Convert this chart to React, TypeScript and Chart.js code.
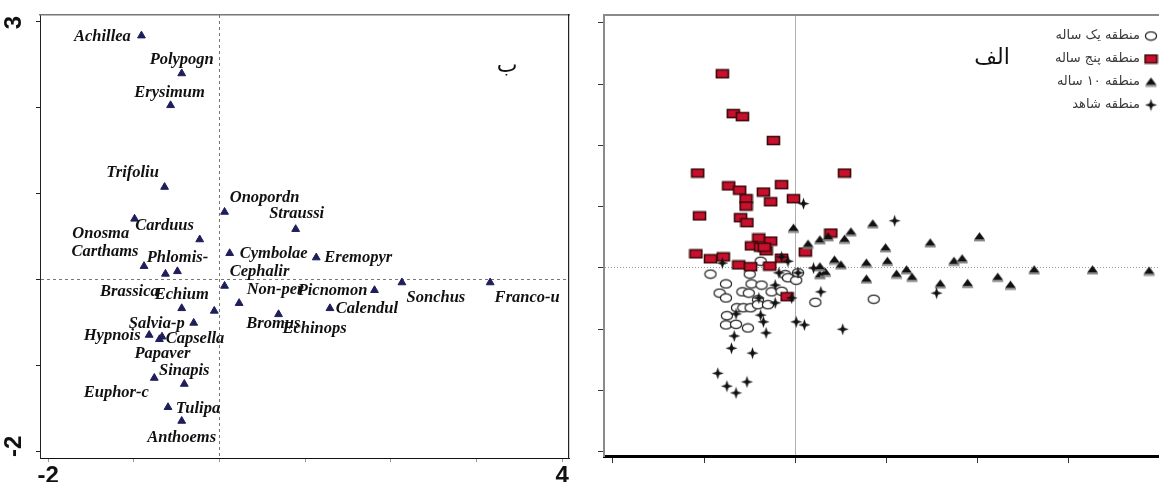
import React, { useEffect, useRef } from 'react';
import { Chart, registerables } from 'chart.js';

Chart.register(...registerables);

// ---------- Left panel (ب): species ordination ----------
const SPECIES = ['Achillea', 'Polypogn', 'Erysimum', 'Trifoliu', 'Onopordn', 'Straussi', 'Carduus', 'Onosma', 'Carthams', 'Phlomis-', 'Brassica', 'Cymbolae', 'Eremopyr', 'Cephalir', 'Non-per', 'Picnomon', 'Calendul', 'Sonchus', 'Franco-u', 'Echium', 'Bromus', 'Echinops', 'Salvia-p', 'Hypnois', 'Capsella', 'Papaver', 'Sinapis', 'Euphor-c', 'Tulipa', 'Anthoems'];
const SPECIES_X = [-0.91, -0.44, -0.57, -0.64, 0.06, 0.89, -0.99, -0.23, -0.88, -0.63, -0.49, 0.12, 1.13, 0.06, 0.23, 1.81, 1.29, 2.13, 3.16, -0.44, -0.06, 0.69, -0.30, -0.82, -0.67, -0.70, -0.41, -0.76, -0.60, -0.44];
const SPECIES_Y = [2.84, 2.40, 2.03, 1.08, 0.79, 0.59, 0.71, 0.47, 0.16, 0.07, 0.10, 0.31, 0.26, -0.07, -0.27, -0.12, -0.33, -0.03, -0.03, -0.33, -0.36, -0.40, -0.50, -0.64, -0.66, -0.69, -1.21, -1.14, -1.48, -1.64];
const LEFT_X_TICKS = [-2, -1, 0, 1, 2, 3, 4];
const LEFT_Y_TICKS = [-2, -1, 0, 1, 2, 3];
const LEFT_X_LABELED = [-2, 4];
const LEFT_Y_LABELED = [3, -2];
const LEFT_PANEL_LETTER = 'ب';

// label placement (pixel offsets from each marker) – styling only
const LABEL_OFFSETS: [number, number][] = [
  [-39, 1], [0, -14], [-1, -13], [-32, -14], [40, -14], [1, -15], [30, 7], [-99, -6], [-39, -14], [12, -16],
  [-48, 20], [44, 0], [42, 0], [35, -14], [36, -13], [-42, 0], [37, 0], [34, 15], [37, 15], [0, -14],
  [59, 13], [36, 14], [-37, 1], [-37, 1], [33, 2], [3, 14], [0, -13], [-38, 15], [30, 1], [0, 17],
];

// ---------- Right panel (الف): site scores ----------
const ONE_YEAR_X = [-0.93, -0.50, -0.38, -0.76, -0.48, -0.37, -0.83, -0.76, -0.58, -0.51, -0.26, -0.15, -0.41, -0.64, -0.57, -0.49, -0.41, -0.30, -0.75, -0.76, -0.65, -0.52, -0.11, -0.08, 0.01, 0.03, 0.22, 0.86];
const ONE_YEAR_Y = [-0.10, -0.10, 0.11, -0.26, -0.26, -0.28, -0.41, -0.49, -0.39, -0.41, -0.39, -0.38, -0.52, -0.65, -0.65, -0.65, -0.60, -0.60, -0.78, -0.93, -0.92, -0.98, -0.11, -0.16, -0.20, -0.08, -0.56, -0.51];
const FIVE_YEAR_X = [-0.80, -0.68, -0.58, -0.24, -1.07, 0.54, -0.73, -0.61, -0.15, -0.35, -0.54, -0.02, -0.27, -0.54, -1.05, -0.60, -0.53, 0.39, -0.40, -0.27, -0.48, -0.38, -0.32, 0.11, -1.09, -0.93, -0.79, -0.15, -0.62, -0.49, -0.28, -0.09, -0.34];
const FIVE_YEAR_Y = [3.17, 2.52, 2.47, 2.08, 1.55, 1.55, 1.34, 1.27, 1.36, 1.24, 1.13, 1.13, 1.08, 1.01, 0.85, 0.82, 0.74, 0.57, 0.49, 0.44, 0.36, 0.34, 0.28, 0.26, 0.23, 0.15, 0.18, 0.16, 0.05, 0.02, 0.03, -0.47, 0.34];
const TEN_YEAR_X = [-0.02, 0.14, 0.27, 0.36, 0.54, 0.61, 0.85, 0.43, 0.50, 0.78, 0.78, 0.99, 1.01, 0.27, 0.33, 0.27, 1.11, 1.22, 1.28, 1.48, 1.59, 1.74, 1.83, 2.02, 1.89, 2.22, 2.36, 2.62, 3.26, 3.88];
const TEN_YEAR_Y = [0.65, 0.39, 0.46, 0.51, 0.47, 0.59, 0.72, 0.13, 0.05, 0.08, -0.18, 0.33, 0.11, -0.11, -0.07, 0.02, -0.10, -0.03, -0.15, 0.41, -0.26, 0.11, 0.15, 0.51, -0.25, -0.15, -0.28, -0.03, -0.03, -0.05];
const CONTROL_X = [0.09, -0.80, -0.15, -0.08, -0.18, 0.03, 0.20, 0.28, -0.22, -0.40, -0.22, -0.04, -0.65, -0.38, -0.35, -0.67, -0.32, -0.70, -0.47, -0.85, -0.75, -0.65, -0.53, 0.01, 0.10, 0.52, 1.09, 1.55];
const CONTROL_Y = [1.05, 0.08, 0.18, 0.11, -0.08, -0.08, 0.00, -0.39, -0.28, -0.49, -0.57, -0.49, -0.75, -0.77, -0.88, -1.11, -1.06, -1.31, -1.39, -1.72, -1.93, -2.04, -1.86, -0.88, -0.93, -1.00, 0.77, -0.41];
const RIGHT_X_TICKS = [-2, -1, 0, 1, 2, 3];
const RIGHT_Y_TICKS = [-3, -2, -1, 0, 1, 2, 3, 4];
const LEGEND_LABELS = ['منطقه یک ساله', 'منطقه پنج ساله', 'منطقه ۱۰ ساله', 'منطقه شاهد'];
const RIGHT_PANEL_LETTER = 'الف';

const pts = (xs: number[], ys: number[]) => xs.map((x, i) => ({ x, y: ys[i] }));
const fixedTicks = (vals: number[]) => (axis: any) => { axis.ticks = vals.map((v) => ({ value: v })); };
const zeroOnly = (color: string) => (c: any) => (c.tick && c.tick.value === 0 ? color : 'rgba(0,0,0,0)');

function makeCanvas(w: number, h: number, draw: (g: CanvasRenderingContext2D) => void) {
  const c = document.createElement('canvas');
  c.width = w; c.height = h;
  draw(c.getContext('2d') as CanvasRenderingContext2D);
  return c;
}

function buildMarkers() {
  const circle = makeCanvas(14, 11, (g) => {
    g.beginPath(); g.ellipse(7, 5.5, 5.6, 4.2, 0, 0, Math.PI * 2);
    g.fillStyle = '#fff'; g.fill(); g.lineWidth = 1.2; g.strokeStyle = '#222'; g.stroke();
  });
  const square = makeCanvas(15, 11, (g) => {
    g.fillStyle = '#c8102e'; g.strokeStyle = '#3a0808'; g.lineWidth = 1.6;
    g.beginPath(); g.rect(1.5, 1.5, 12, 8); g.fill(); g.stroke();
  });
  const triangle = makeCanvas(13, 11, (g) => {
    g.fillStyle = '#111'; g.beginPath(); g.moveTo(6.5, 1); g.lineTo(12, 8.5); g.lineTo(1, 8.5); g.closePath(); g.fill();
    g.strokeStyle = '#8a8a8a'; g.lineWidth = 1.5; g.beginPath(); g.moveTo(1, 9.5); g.lineTo(12, 9.5); g.stroke();
  });
  const plus = makeCanvas(13, 13, (g) => {
    const c = 6.5, r = 6, q = 1.5;
    g.fillStyle = '#111'; g.beginPath();
    g.moveTo(c, c - r); g.lineTo(c + q, c - q); g.lineTo(c + r, c); g.lineTo(c + q, c + q);
    g.lineTo(c, c + r); g.lineTo(c - q, c + q); g.lineTo(c - r, c); g.lineTo(c - q, c - q); g.closePath(); g.fill();
  });
  return { circle, square, triangle, plus };
}

const leftAnnotations = {
  id: 'leftAnnotations',
  afterDatasetsDraw(chart: any) {
    const { ctx, chartArea } = chart;
    const meta = chart.getDatasetMeta(0);
    ctx.save();
    ctx.fillStyle = '#111';
    ctx.textAlign = 'center';
    ctx.textBaseline = 'middle';
    ctx.font = 'italic bold 16.5px "Liberation Serif", serif';
    meta.data.forEach((p: any, i: number) => {
      const [dx, dy] = LABEL_OFFSETS[i];
      ctx.fillText(SPECIES[i], p.x + dx, p.y + dy);
    });
    ctx.font = 'bold 24px "Liberation Sans", sans-serif';
    const topVal = Math.max(...LEFT_Y_LABELED);
    LEFT_Y_LABELED.forEach((v) => {
      const isTop = v === topVal;
      const py = isTop ? chartArea.top + 1 : chartArea.bottom - 1;
      ctx.save();
      ctx.translate(14, py);
      ctx.rotate(-Math.PI / 2);
      ctx.textAlign = isTop ? 'right' : 'left';
      ctx.fillText(String(v), 0, 0);
      ctx.restore();
    });
    ctx.font = '22px "DejaVu Sans", sans-serif';
    ctx.fillText(LEFT_PANEL_LETTER, 507, 66);
    ctx.restore();
  },
};

function rightAnnotations(markers: any) {
  return {
    id: 'rightAnnotations',
    afterDraw(chart: any) {
      const { ctx, chartArea } = chart;
      const symbols = [markers.circle, markers.square, markers.triangle, markers.plus];
      ctx.save();
      ctx.direction = 'rtl';
      ctx.textAlign = 'right';
      ctx.textBaseline = 'middle';
      ctx.fillStyle = '#3a3a3a';
      ctx.font = '13px "DejaVu Sans", sans-serif';
      const sx = chartArea.right - 7;
      LEGEND_LABELS.forEach((lab, i) => {
        const y = 36 + i * 23;
        const img = symbols[i];
        ctx.drawImage(img, sx - img.width / 2, y - img.height / 2);
        ctx.fillText(lab, sx - 11, y);
      });
      ctx.fillStyle = '#111';
      ctx.textAlign = 'center';
      ctx.font = '22px "DejaVu Sans", sans-serif';
      ctx.fillText(RIGHT_PANEL_LETTER, 412, 58);
      ctx.restore();
    },
  };
}

export default function App() {
  const leftRef = useRef<HTMLCanvasElement>(null);
  const rightRef = useRef<HTMLCanvasElement>(null);

  useEffect(() => {
    const markers = buildMarkers();
    const hidden = { display: false };

    const left = new Chart(leftRef.current as HTMLCanvasElement, {
      type: 'scatter',
      data: {
        datasets: [{
          data: pts(SPECIES_X, SPECIES_Y),
          pointStyle: 'triangle',
          pointRadius: 4.5,
          backgroundColor: '#1e1e5a',
          borderColor: '#1e1e5a',
          borderWidth: 1,
        }],
      },
      options: {
        animation: false,
        responsive: true,
        maintainAspectRatio: false,
        events: [],
        layout: { padding: { left: 0, top: 15, right: 11, bottom: 0 } },
        plugins: { legend: hidden, tooltip: { enabled: false } },
        scales: {
          x: {
            type: 'linear', position: 'bottom', min: -2.094, max: 4.08,
            afterBuildTicks: fixedTicks(LEFT_X_TICKS),
            afterFit: (s: any) => { s.height = 24; },
            grid: { color: zeroOnly('#777'), tickColor: '#999', tickLength: 4, drawTicks: true },
            border: { display: true, color: '#111', width: 1, dash: [3, 3] },
            ticks: {
              autoSkip: false, maxRotation: 0, padding: 0, color: '#111',
              font: { family: '"Liberation Sans", sans-serif', size: 24, weight: 'bold' },
              callback: (v: any) => (LEFT_X_LABELED.includes(Number(v)) ? String(v) : ''),
            },
          },
          y: {
            type: 'linear', position: 'left', min: -2.07, max: 3.08,
            afterBuildTicks: fixedTicks(LEFT_Y_TICKS),
            afterFit: (s: any) => { s.width = 40; },
            grid: { color: zeroOnly('#777'), tickColor: '#222', tickLength: 4, drawTicks: true },
            border: { display: true, color: '#222', width: 1, dash: [3, 3] },
            ticks: { display: false },
          },
          xTop: {
            type: 'linear', position: 'top', min: -2.094, max: 4.08,
            afterFit: (s: any) => { s.height = 0; },
            grid: hidden, ticks: { display: false },
            border: { display: true, color: '#777', width: 1.5 },
          },
          yRight: {
            type: 'linear', position: 'right', min: -2.07, max: 3.08,
            afterFit: (s: any) => { s.width = 0; },
            grid: hidden, ticks: { display: false },
            border: { display: true, color: '#222', width: 1.2 },
          },
        },
      } as any,
      plugins: [leftAnnotations],
    });

    const right = new Chart(rightRef.current as HTMLCanvasElement, {
      type: 'scatter',
      data: {
        datasets: [
          { label: LEGEND_LABELS[3], data: pts(CONTROL_X, CONTROL_Y), pointStyle: markers.plus as any, order: 1 },
          { label: LEGEND_LABELS[2], data: pts(TEN_YEAR_X, TEN_YEAR_Y), pointStyle: markers.triangle as any, order: 2 },
          { label: LEGEND_LABELS[1], data: pts(FIVE_YEAR_X, FIVE_YEAR_Y), pointStyle: markers.square as any, order: 3 },
          { label: LEGEND_LABELS[0], data: pts(ONE_YEAR_X, ONE_YEAR_Y), pointStyle: markers.circle as any, order: 4 },
        ],
      },
      options: {
        animation: false,
        responsive: true,
        maintainAspectRatio: false,
        events: [],
        layout: { padding: { left: 0, top: 15, right: 0, bottom: 0 } },
        plugins: { legend: hidden, tooltip: { enabled: false } },
        scales: {
          x: {
            type: 'linear', position: 'bottom', min: -2.098, max: 3.978,
            afterBuildTicks: fixedTicks(RIGHT_X_TICKS),
            afterFit: (s: any) => { s.height = 26; },
            grid: { color: zeroOnly('#b0b0b0'), tickColor: '#333', tickLength: 7, drawTicks: true },
            border: { display: true, color: '#000', width: 3 },
            ticks: { display: false },
          },
          y: {
            type: 'linear', position: 'left', min: -3.07, max: 4.13,
            afterBuildTicks: fixedTicks(RIGHT_Y_TICKS),
            afterFit: (s: any) => { s.width = 24; },
            grid: { color: zeroOnly('#999'), tickColor: '#333', tickLength: 6, drawTicks: true },
            border: { display: true, color: '#8a8a8a', width: 2, dash: [1, 2] },
            ticks: { display: false },
          },
          xTop: {
            type: 'linear', position: 'top', min: -2.098, max: 3.978,
            afterFit: (s: any) => { s.height = 0; },
            grid: hidden, ticks: { display: false },
            border: { display: true, color: '#8a8a8a', width: 2 },
          },
        },
      } as any,
      plugins: [rightAnnotations(markers)],
    });

    return () => { left.destroy(); right.destroy(); };
  }, []);

  return (
    <div style={{ position: 'fixed', left: 0, top: 0, width: 1163, height: 482, background: '#fff', overflow: 'hidden' }}>
      <div style={{ position: 'absolute', left: 0, top: 0, width: 580, height: 482 }}>
        <canvas ref={leftRef} />
      </div>
      <div style={{ position: 'absolute', left: 580, top: 0, width: 583, height: 482 }}>
        <canvas ref={rightRef} />
      </div>
    </div>
  );
}
